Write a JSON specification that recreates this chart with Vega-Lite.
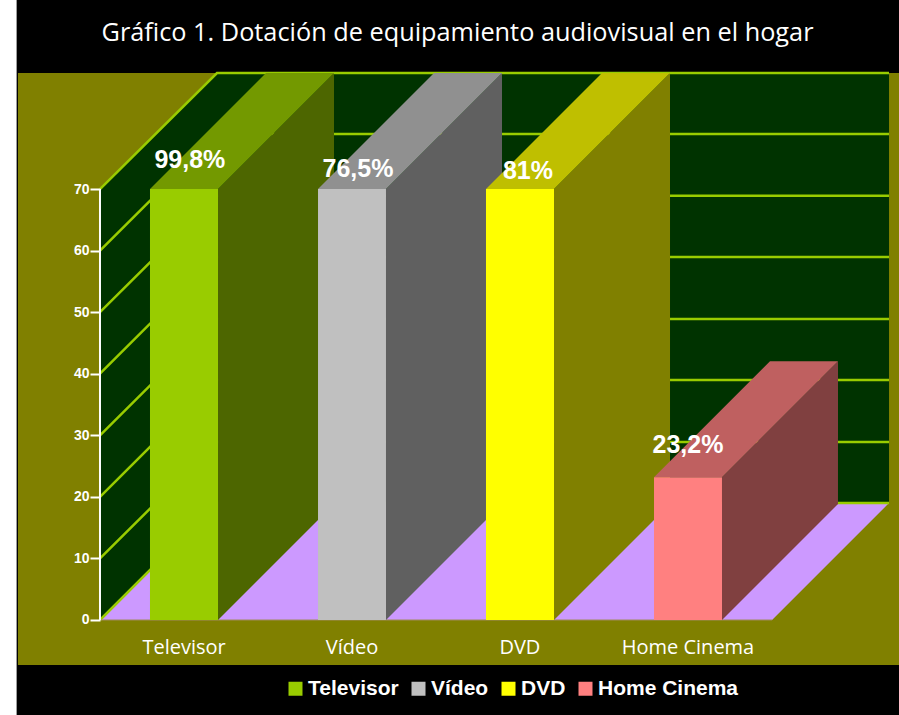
{
"$schema":"https://vega.github.io/schema/vega-lite/v6.json",
"width":899,"height":715,"padding":0,"autosize":{"type":"none"},"background":"#000000",
"config":{"view":{"stroke":null}},
"title":{"text":"Gráfico 1. Dotación de equipamiento audiovisual en el hogar","color":"#ffffff","font":"Open Sans","fontSize":25.3,"fontWeight":"normal","anchor":"middle","dx":8,"offset":-46},
"datasets":{
"bars":[
{"cat":"Televisor","x":8.12,"x2":19.17,"base":0,"value":70,"label":"99,8%","labelX":14.6,"labelY":73.4,"catY":-5.52,"catX":13.65},
{"cat":"Vídeo","x":35.41,"x2":46.45,"base":0,"value":70,"label":"76,5%","labelX":41.9,"labelY":71.9,"catY":-5.52,"catX":40.93},
{"cat":"DVD","x":62.69,"x2":73.74,"base":0,"value":70,"label":"81%","labelX":69.5,"labelY":71.7,"catY":-5.52,"catX":68.2},
{"cat":"Home Cinema","x":89.98,"x2":101.02,"base":0,"value":23.2,"label":"23,2%","labelX":95.5,"labelY":27.1,"catY":-5.52,"catX":95.5}
],
"sides":[
{"cat":"Televisor","x":19.17,"top":70,"bottom":0},{"cat":"Televisor","x":38.01,"top":88.84,"bottom":18.84},
{"cat":"Vídeo","x":46.45,"top":70,"bottom":0},{"cat":"Vídeo","x":65.29,"top":88.84,"bottom":18.84},
{"cat":"DVD","x":73.74,"top":70,"bottom":0},{"cat":"DVD","x":92.58,"top":88.84,"bottom":18.84},
{"cat":"Home Cinema","x":101.02,"top":23.2,"bottom":0},{"cat":"Home Cinema","x":119.86,"top":42.04,"bottom":18.84}
],
"tops":[
{"cat":"Televisor","y":70,"x":8.12,"x2":19.17},{"cat":"Televisor","y":88.84,"x":26.96,"x2":38.01},
{"cat":"Vídeo","y":70,"x":35.41,"x2":46.45},{"cat":"Vídeo","y":88.84,"x":54.25,"x2":65.29},
{"cat":"DVD","y":70,"x":62.69,"x2":73.74},{"cat":"DVD","y":88.84,"x":81.53,"x2":92.58},
{"cat":"Home Cinema","y":23.2,"x":89.98,"x2":101.02},{"cat":"Home Cinema","y":42.04,"x":108.82,"x2":119.86}
],
"grid":[
{"v":0,"x":0,"y":0},{"v":0,"x":19,"y":19},{"v":0,"x":128.15,"y":19},
{"v":10,"x":0,"y":10},{"v":10,"x":19,"y":28.9},{"v":10,"x":128.15,"y":28.9},
{"v":20,"x":0,"y":20},{"v":20,"x":19,"y":38.98},{"v":20,"x":128.15,"y":38.98},
{"v":30,"x":0,"y":30},{"v":30,"x":19,"y":48.9},{"v":30,"x":128.15,"y":48.9},
{"v":40,"x":0,"y":40},{"v":40,"x":19,"y":58.96},{"v":40,"x":128.15,"y":58.96},
{"v":50,"x":0,"y":50},{"v":50,"x":19,"y":68.9},{"v":50,"x":128.15,"y":68.9},
{"v":60,"x":0,"y":60},{"v":60,"x":19,"y":78.93},{"v":60,"x":128.15,"y":78.93},
{"v":70,"x":0,"y":70},{"v":70,"x":19,"y":88.84},{"v":70,"x":128.15,"y":88.84}
]
},
"layer":[
{"data":{"values":[{"x":-13.48,"x2":129.77,"y":100.7,"y2":-15.43}]},"mark":{"type":"rect","color":"#000000"},
 "encoding":{"x":{"field":"x","type":"quantitative","scale":{"domain":[-16.24,129.77],"nice":false,"zero":false},"axis":null},"x2":{"field":"x2"},"y":{"field":"y","type":"quantitative","scale":{"domain":[-15.43,100.7],"nice":false,"zero":false},"axis":{"orient":"left","values":[0,10,20,30,40,50,60,70],"offset":-100,"title":null,"domain":false,"grid":false,"tickColor":"#ffffff","tickWidth":2,"tickSize":10,"labelColor":"#ffffff","labelFont":"Liberation Sans","labelFontWeight":"bold","labelFontSize":14,"labelPadding":1,"zindex":1}},"y2":{"field":"y2"}}},
{"data":{"values":[{"x":-16.24,"x2":-13.64,"y":100.7,"y2":-15.43}]},"mark":{"type":"rect","color":"#ffffff"},
 "encoding":{"x":{"field":"x","type":"quantitative","axis":null},"x2":{"field":"x2"},"y":{"field":"y","type":"quantitative"},"y2":{"field":"y2"}}},
{"data":{"values":[{"x":-13.64,"x2":-13.48,"y":100.7,"y2":-15.43}]},"mark":{"type":"rect","color":"#a0a0a0"},
 "encoding":{"x":{"field":"x","type":"quantitative","axis":null},"x2":{"field":"x2"},"y":{"field":"y","type":"quantitative"},"y2":{"field":"y2"}}},
{"data":{"values":[{"x":-13.32,"x2":129.77,"y":88.84,"y2":-7.31}]},"mark":{"type":"rect","color":"#808000"},
 "encoding":{"x":{"field":"x","type":"quantitative","axis":null},"x2":{"field":"x2"},"y":{"field":"y","type":"quantitative"},"y2":{"field":"y2"}}},
{"data":{"values":[{"x":19,"x2":128.15,"y":88.84,"y2":19}]},"mark":{"type":"rect","color":"#003300"},
 "encoding":{"x":{"field":"x","type":"quantitative","axis":null},"x2":{"field":"x2"},"y":{"field":"y","type":"quantitative"},"y2":{"field":"y2"}}},
{"data":{"values":[{"x":0,"top":70,"bottom":0},{"x":19,"top":88.84,"bottom":19}]},"mark":{"type":"area","color":"#003300"},
 "encoding":{"x":{"field":"x","type":"quantitative","axis":null},"y":{"field":"top","type":"quantitative"},"y2":{"field":"bottom"}}},
{"data":{"values":[{"y":0,"x":0,"x2":109.15},{"y":19,"x":19,"x2":128.15}]},"mark":{"type":"area","orient":"horizontal","color":"#cc99ff"},
 "encoding":{"y":{"field":"y","type":"quantitative"},"x":{"field":"x","type":"quantitative","axis":null},"x2":{"field":"x2"}}},
{"data":{"name":"grid"},"mark":{"type":"line","color":"#99cc00","strokeWidth":2.5},
 "encoding":{"x":{"field":"x","type":"quantitative","axis":null},"y":{"field":"y","type":"quantitative"},"detail":{"field":"v","type":"nominal"}}},
{"data":{"values":[{"x":0,"x2":109.15,"y":0}]},"mark":{"type":"rule","color":"#a08a60","strokeWidth":1},
 "encoding":{"x":{"field":"x","type":"quantitative","axis":null},"x2":{"field":"x2"},"y":{"field":"y","type":"quantitative"}}},
{"data":{"values":[{"x":0,"y":0,"y2":70}]},"mark":{"type":"rule","color":"#ffffff","strokeWidth":2},
 "encoding":{"x":{"field":"x","type":"quantitative","axis":null},"y":{"field":"y","type":"quantitative"},"y2":{"field":"y2"}}},
{"data":{"name":"sides"},"mark":{"type":"area"},
 "encoding":{"x":{"field":"x","type":"quantitative","axis":null},"y":{"field":"top","type":"quantitative"},"y2":{"field":"bottom"},
  "color":{"field":"cat","type":"nominal","legend":null,"scale":{"domain":["Televisor","Vídeo","DVD","Home Cinema"],"range":["#4d6600","#606060","#808000","#804040"]}}}},
{"data":{"name":"tops"},"mark":{"type":"area","orient":"horizontal"},
 "encoding":{"y":{"field":"y","type":"quantitative"},"x":{"field":"x","type":"quantitative","axis":null},"x2":{"field":"x2"},
  "color":{"field":"cat","type":"nominal","legend":null,"scale":{"domain":["Televisor","Vídeo","DVD","Home Cinema"],"range":["#739900","#909090","#bfbf00","#bf6060"]}}}},
{"data":{"name":"bars"},"mark":{"type":"rect"},
 "encoding":{"x":{"field":"x","type":"quantitative","axis":null},"x2":{"field":"x2"},"y":{"field":"value","type":"quantitative"},"y2":{"field":"base"},
  "color":{"field":"cat","type":"nominal","scale":{"domain":["Televisor","Vídeo","DVD","Home Cinema"],"range":["#99cc00","#c0c0c0","#ffff00","#ff8080"]},
   "legend":{"orient":"none","legendX":285,"legendY":678,"direction":"horizontal","columns":4,"title":null,"symbolType":"square","symbolSize":196,"symbolStrokeWidth":0,"symbolOpacity":1,"labelColor":"#ffffff","labelFont":"Liberation Sans","labelFontWeight":"bold","labelFontSize":21,"labelOffset":2,"columnPadding":9,"labelLimit":300}}}},
{"data":{"name":"bars"},"mark":{"type":"text","color":"#ffffff","font":"Liberation Sans","fontWeight":"bold","fontSize":25,"align":"center","baseline":"alphabetic"},
 "encoding":{"x":{"field":"labelX","type":"quantitative","axis":null},"y":{"field":"labelY","type":"quantitative"},"text":{"field":"label"}}},
{"data":{"name":"bars"},"mark":{"type":"text","color":"#ffffff","font":"Open Sans","fontSize":20,"align":"center","baseline":"alphabetic"},
 "encoding":{"x":{"field":"catX","type":"quantitative","axis":null},"y":{"field":"catY","type":"quantitative"},"text":{"field":"cat"}}}
],
"resolve":{"scale":{"color":"independent"}}
}
